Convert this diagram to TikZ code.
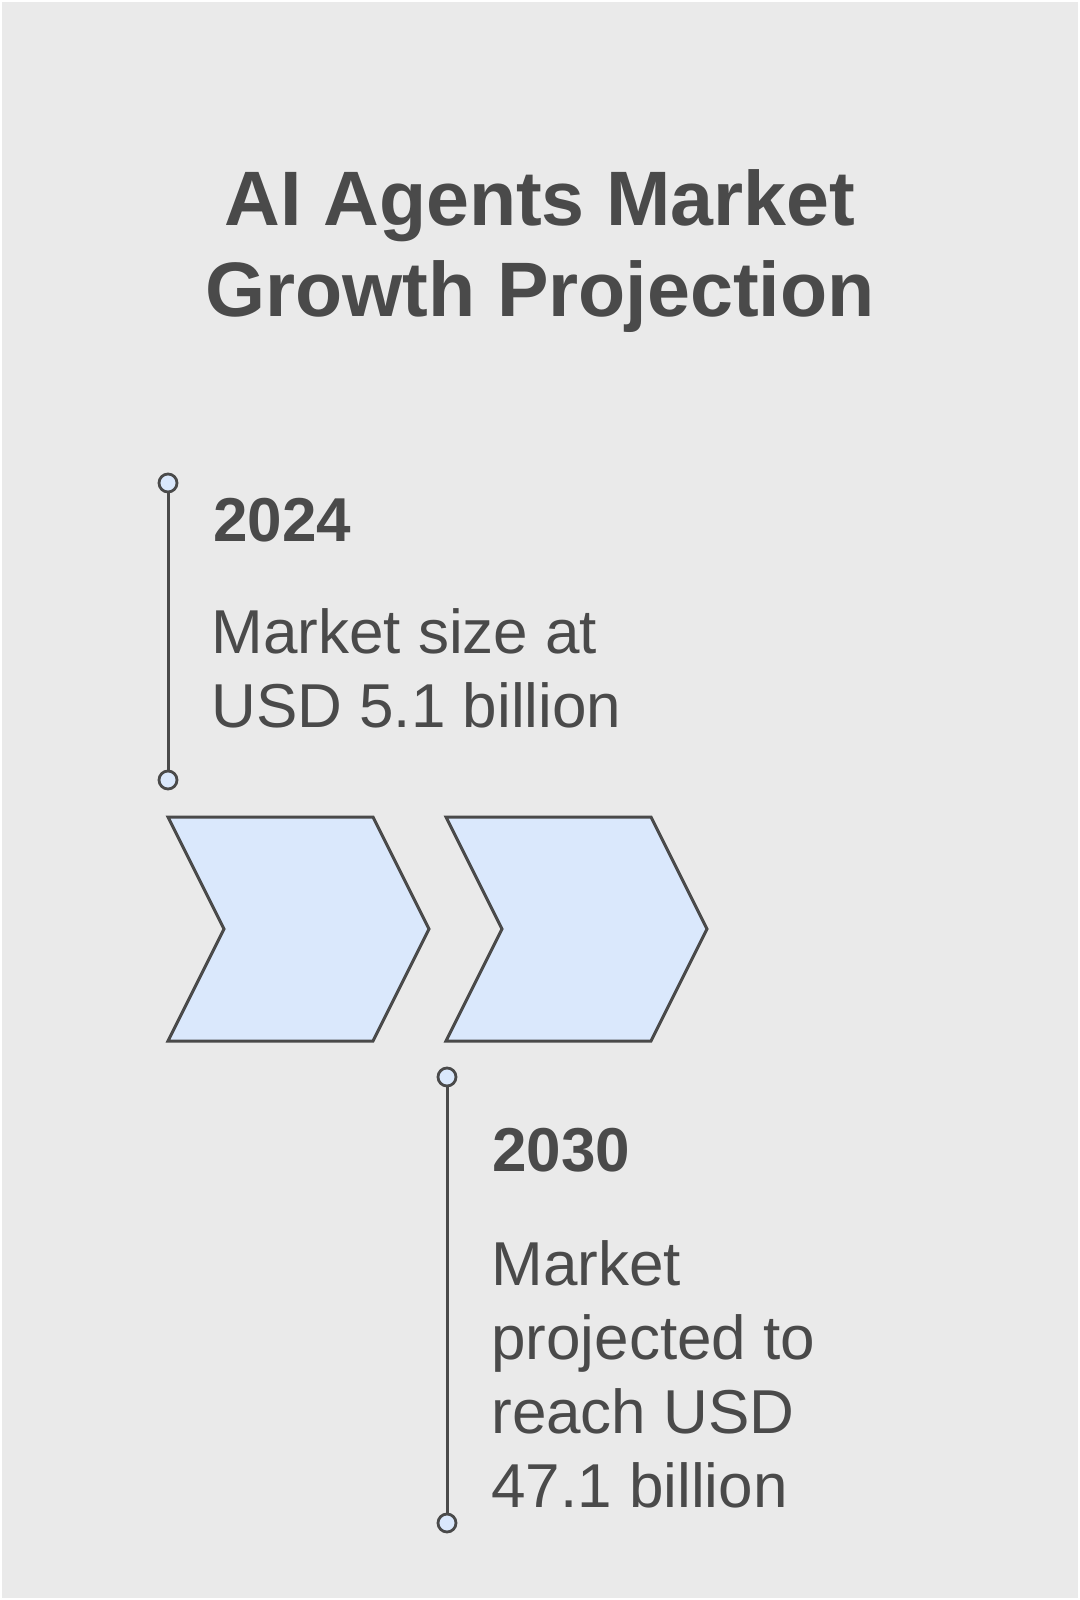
\documentclass[tikz,border=0pt]{standalone}
\usepackage{fontspec}
\setmainfont{Liberation Sans}
\usepackage{xcolor}
\definecolor{bgcol}{HTML}{EAEAEA}
\definecolor{chevfill}{HTML}{DAE8FC}
\definecolor{inkcol}{HTML}{4A4A4A}

\begin{document}
\begin{tikzpicture}[x=0.5pt, y=-0.5pt,
	dot/.style={draw=inkcol, circle, fill=chevfill, line width=1.4pt, minimum size=9pt, inner sep=0pt},
	year/.style={anchor=base west, inner sep=0pt, text=inkcol, font=\fontsize{31}{37}\selectfont\bfseries},
	desc/.style={anchor=base west, inner sep=0pt, text=inkcol, align=left, font=\fontsize{31}{37}\selectfont},
	chev/.style={draw=inkcol, fill=chevfill, line width=1.5pt, line join=miter}]
	\fill[bgcol] (0,0) rectangle (1080,1600);
	\draw[white, line width=1pt] (1,1) rectangle (1079,1599);
	\node (title) [anchor=base, inner sep=0pt, text=inkcol, align=center, font=\fontsize{38.6}{45.5}\selectfont\bfseries] at (540,316) {AI Agents Market\\Growth Projection};
	% chevrons
	\foreach \x in {168, 446} {
		\draw[chev] (\x,817) -- ++(205,0) -- ++(56,112) -- ++(-56,112) -- ++(-205,0) -- ++(56,-112) -- cycle;
	}
	% 2024
	\node (s2024) [dot] at (168, 483) {};
	\node (e2024) [dot] at (168, 780) {};
	\draw[inkcol, line width=1.5pt] (s2024) -- (e2024);
	\node (y2024) [year] at (213, 541) {2024};
	\node (d2024) [desc] at (211, 727) {Market size at\\USD 5.1 billion};
	% 2030
	\node (s2030) [dot] at (447, 1077) {};
	\node (e2030) [dot] at (447, 1523) {};
	\draw[inkcol, line width=1.5pt] (s2030) -- (e2030);
	\node (y2030) [year] at (492, 1171) {2030};
	\node (d2030) [desc] at (491, 1507) {Market\\projected to\\reach USD\\47.1 billion};
\end{tikzpicture}
\end{document}
